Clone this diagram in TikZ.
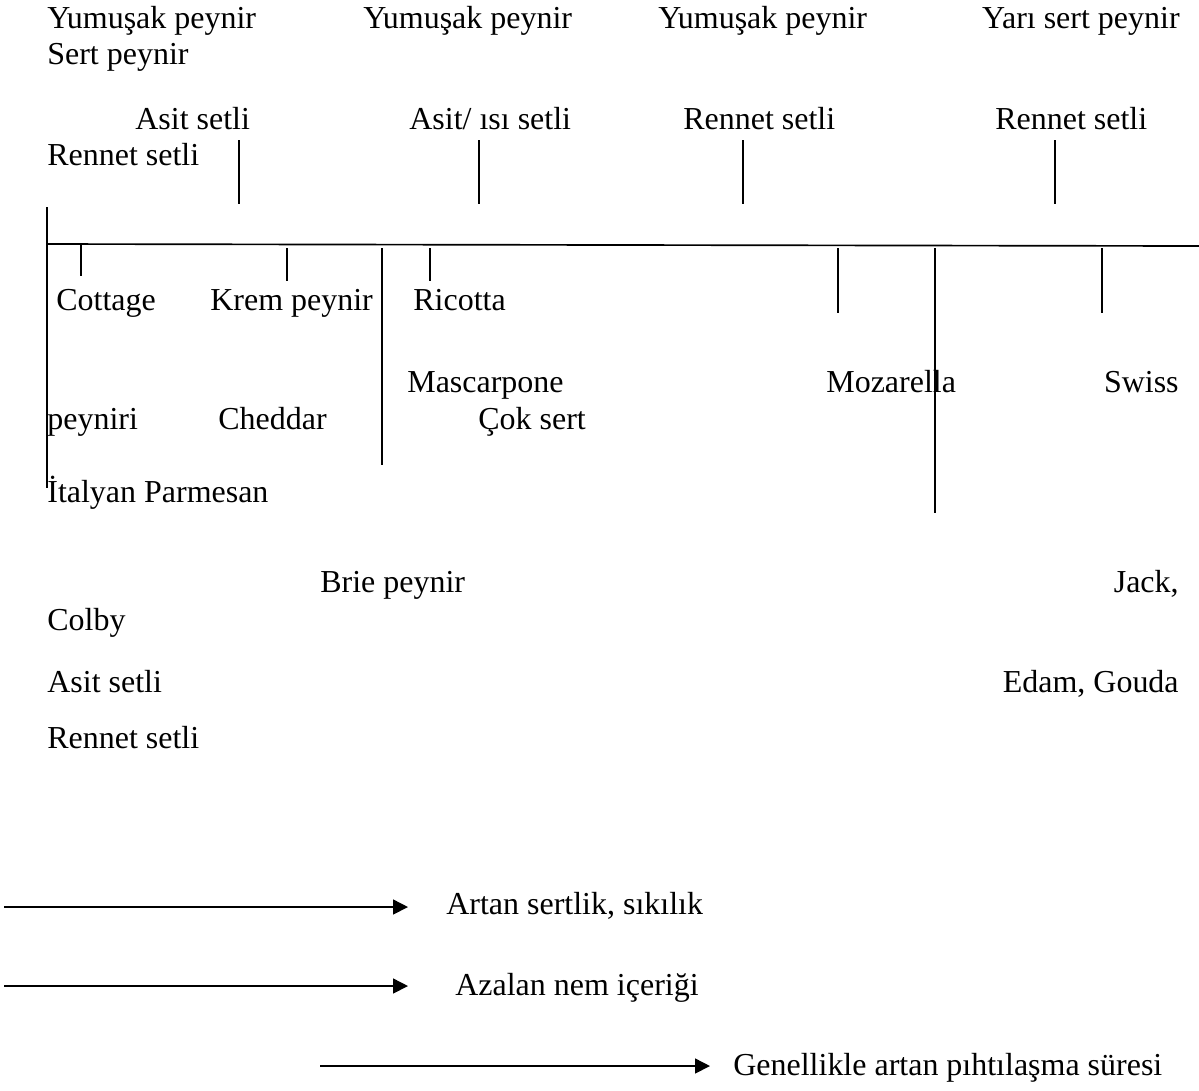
\documentclass[tikz,border=0pt]{standalone}
\usepackage{fontspec}
\setmainfont{Liberation Serif}
\usepackage{tikz}
\usetikzlibrary{arrows.meta}

\begin{document}
\begin{tikzpicture}[
  x=0.02cm, y=-0.02cm,
  every node/.style={font=\fontsize{18.2}{21}\selectfont},
  lab/.style={inner sep=0pt, anchor=base west},
  rlab/.style={inner sep=0pt, anchor=base east},
  tick/.style={line width=0.95pt},
  trend/.style={line width=0.9pt, -{Triangle[length=0.3cm,width=0.3cm]}}
]
\useasboundingbox (0,0) rectangle (1199,1090);

% ust etiketler
\node[lab] (ysoft1) at (47,28) {Yumuşak peynir};
\node[lab] (sert) at (47,64) {Sert peynir};
\node[lab] (ysoft2) at (363,28) {Yumuşak peynir};
\node[lab] (ysoft3) at (658,28) {Yumuşak peynir};
\node[rlab] (yhalf) at (1180,28) {Yarı sert peynir};
\node[lab] (asit1) at (135,129) {Asit setli};
\node[lab] (rennet1) at (47,165) {Rennet setli};
\node[lab] (asitisi) at (409,129) {Asit/ ısı setli};
\node[lab] (rennet2) at (683,129) {Rennet setli};
\node[lab] (rennet3) at (995,129) {Rennet setli};

% eksen ve cizgiler
\draw[tick] (47,244) -- (1199,246);
\draw[tick] (47,207) -- (47,488);
\foreach \x in {239,479,743,1055}
  \draw[tick] (\x,140) -- (\x,204);
\draw[tick] (81,245) -- (81,276);
\draw[tick] (287,248) -- (287,281);
\draw[tick] (382,248) -- (382,465);
\draw[tick] (430,248) -- (430,281);
\draw[tick] (838,248) -- (838,313);
\draw[tick] (935,248) -- (935,513);
\draw[tick] (1102,248) -- (1102,313);

% alt etiketler
\node[lab] (cottage) at (56,310) {Cottage};
\node[lab] (krem) at (210,310) {Krem peynir};
\node[lab] (ricotta) at (413,310) {Ricotta};
\node[lab] (mascarpone) at (407,392) {Mascarpone};
\node[lab] (mozarella) at (826,392) {Mozarella};
\node[rlab] (swiss) at (1179,392) {Swiss};
\node[lab] (peyniri) at (47,429) {peyniri};
\node[lab] (cheddar) at (218,429) {Cheddar};
\node[lab] (coksert) at (478,429) {Çok sert};
\node[lab] (parmesan) at (47,502) {İtalyan Parmesan};
\node[lab] (brie) at (320,592) {Brie peynir};
\node[rlab] (jack) at (1179,592) {Jack,};
\node[lab] (colby) at (47,630) {Colby};
\node[lab] (asit2) at (47,692) {Asit setli};
\node[rlab] (edam) at (1179,692) {Edam, Gouda};
\node[lab] (rennet4) at (47,748) {Rennet setli};

% egilimler
\node[lab] (lhard) at (446,914) {Artan sertlik, sıkılık};
\node[lab] (lmoist) at (455,995) {Azalan nem içeriği};
\node[lab] (lclot) at (733,1075) {Genellikle artan pıhtılaşma süresi};
\draw[trend] (4,907) -- (408,907);
\draw[trend] (4,986) -- (408,986);
\draw[trend] (320,1066) -- (710,1066);
\end{tikzpicture}
\end{document}
